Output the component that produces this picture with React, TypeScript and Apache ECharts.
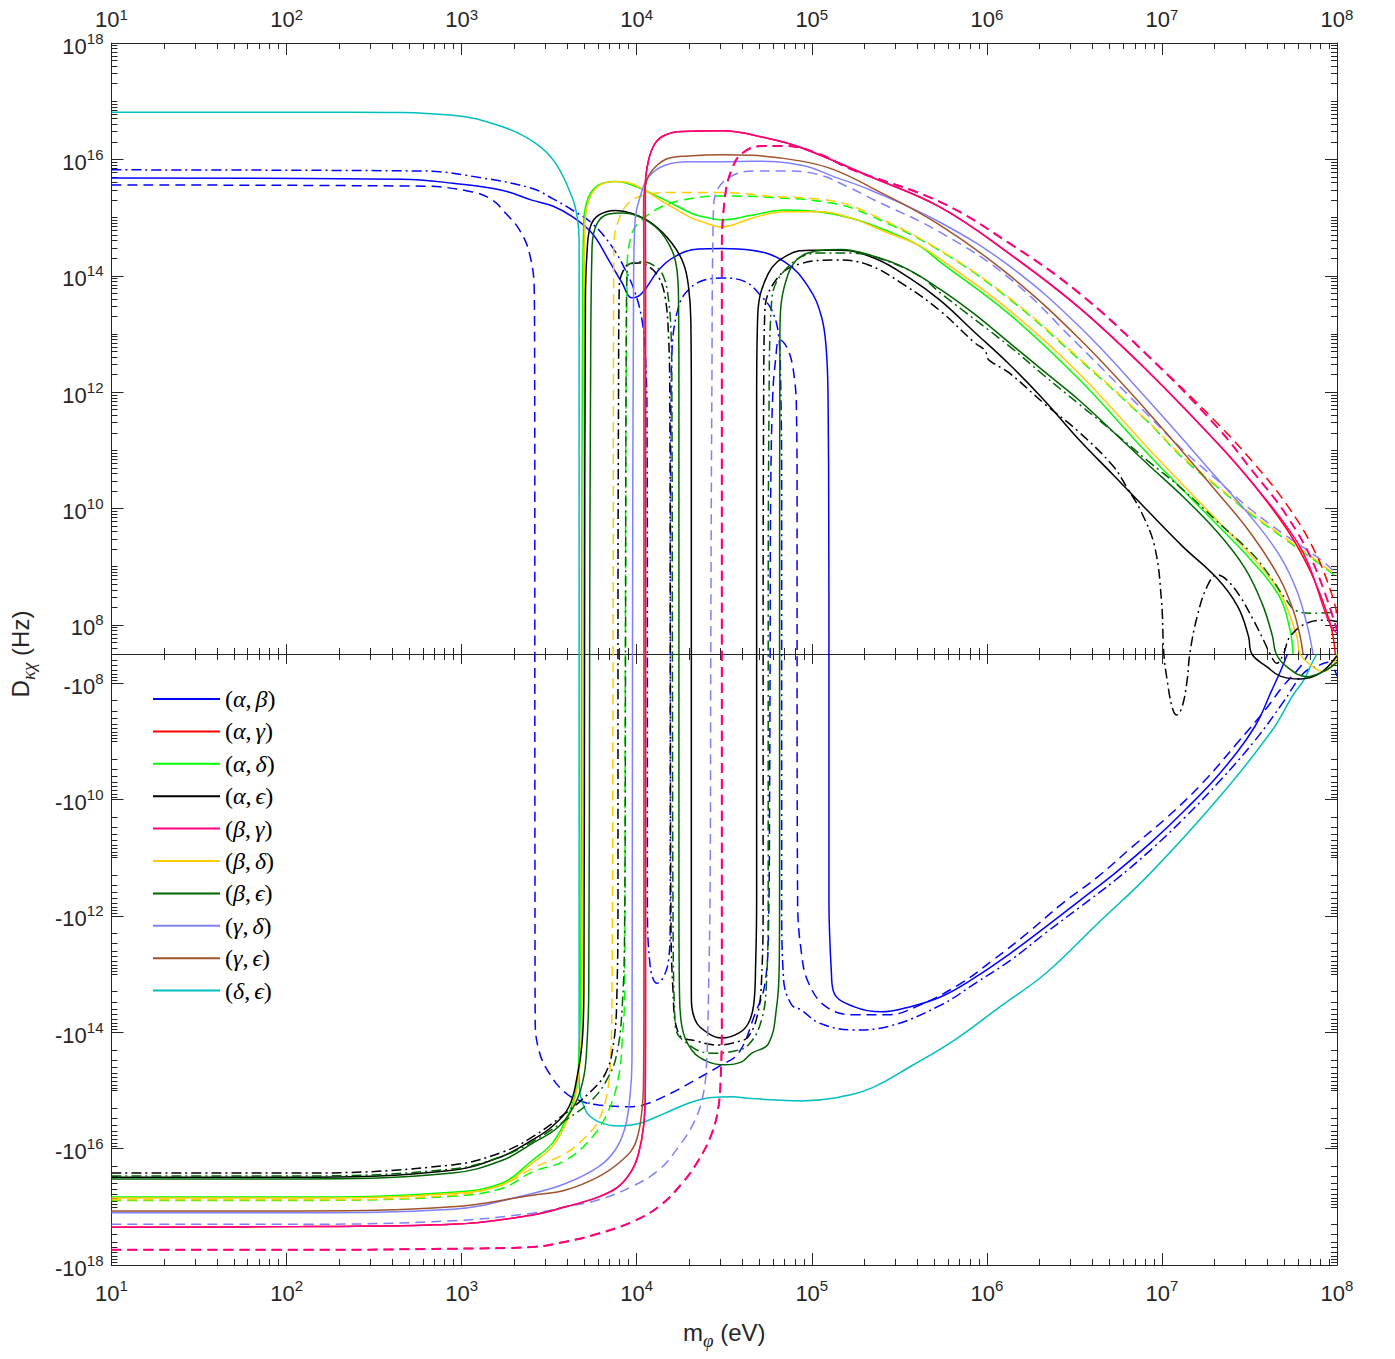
import React, { useEffect, useRef } from "react";
import * as echarts from "echarts";

// x = log10(m_phi / eV), y = signed log10(|D_kx| / Hz); y = 0 means |D| below 10^7.5 Hz (drawn on the zero line)
const xMajor = [1, 2, 3, 4, 5, 6, 7, 8];
const yLabelExponents = [8, 10, 12, 14, 16, 18];

const abSolid = [[1.0,15.68],[2.66,15.66],[2.95,15.59],[3.23,15.47],[3.40,15.30],[3.52,15.20],[3.63,15.02],[3.745,14.73],[3.84,14.27],[3.916,13.88],[3.973,13.62],[4.03,13.70],[4.125,14.10],[4.218,14.33],[4.353,14.46],[4.486,14.47],[4.657,14.44],[4.845,14.24],[4.98,13.81],[5.055,13.30],[5.083,12.72],[5.093,11.87],[5.097,9.58],[5.098,0],[5.098,-11.73],[5.112,-12.98],[5.128,-13.33],[5.239,-13.56],[5.399,-13.65],[5.539,-13.58],[5.738,-13.39],[5.937,-13.05],[6.136,-12.64],[6.336,-12.19],[6.534,-11.73],[6.734,-11.26],[6.933,-10.75],[7.132,-10.18],[7.331,-9.55],[7.53,-8.75],[7.628,-8.12],[7.675,-7.81],[7.717,0]];
const abDash = [[1.0,15.56],[2.777,15.54],[3.062,15.44],[3.176,15.30],[3.25,15.08],[3.33,14.79],[3.387,14.39],[3.415,13.73],[3.417,12.41],[3.418,10.15],[3.418,0],[3.419,-11.73],[3.42,-13.79],[3.441,-14.31],[3.499,-14.70],[3.592,-15.04],[3.688,-15.19],[3.783,-15.25],[3.973,-15.28],[4.068,-15.22],[4.201,-15.04],[4.353,-14.79],[4.467,-14.59],[4.581,-14.36],[4.674,-13.70],[4.731,-13.19],[4.753,-12.16],[4.759,-10.01],[4.762,0],[4.765,10.15],[4.776,11.87],[4.793,12.55],[4.816,12.90],[4.866,12.72],[4.902,12.21],[4.913,11.58],[4.916,10.15],[4.916,0],[4.919,-11.73],[4.941,-12.64],[4.981,-13.15],[5.081,-13.56],[5.238,-13.70],[5.437,-13.70],[5.597,-13.56],[5.836,-13.19],[6.035,-12.76],[6.234,-12.29],[6.434,-11.78],[6.633,-11.33],[6.832,-10.81],[7.032,-10.30],[7.231,-9.72],[7.43,-9.03],[7.59,-8.46],[7.69,-8.06],[7.79,-7.72],[7.835,0]];
const abDashDot = [[1.0,15.82],[2.777,15.80],[3.119,15.68],[3.404,15.50],[3.517,15.33],[3.631,15.13],[3.745,14.90],[3.859,14.50],[3.935,14.10],[3.992,13.70],[4.03,13.24],[4.049,12.67],[4.059,11.52],[4.061,0],[4.061,-11.73],[4.077,-12.87],[4.116,-13.16],[4.153,-13.05],[4.182,-12.76],[4.191,-12.19],[4.192,0],[4.195,11.52],[4.201,12.67],[4.239,13.47],[4.296,13.76],[4.391,13.93],[4.486,13.96],[4.618,13.90],[4.714,13.64],[4.771,13.41],[4.809,13.01],[4.822,12.21],[4.828,10.15],[4.828,0],[4.828,-11.73],[4.839,-13.10],[4.885,-13.53],[4.941,-13.62],[5.041,-13.84],[5.238,-13.96],[5.437,-13.90],[5.739,-13.53],[5.938,-13.15],[6.137,-12.76],[6.337,-12.29],[6.536,-11.84],[6.736,-11.38],[6.935,-10.87],[7.134,-10.30],[7.334,-9.67],[7.533,-8.98],[7.69,-8.34],[7.809,-7.83],[7.886,-7.71],[7.949,-7.64],[8.0,-7.88]];
const agSolid = [[1.0,-17.35],[2.094,-17.34],[2.948,-17.30],[3.404,-17.14],[3.594,-17.00],[3.783,-16.83],[3.897,-16.65],[3.973,-16.37],[4.011,-16.08],[4.039,-15.62],[4.049,-15.05],[4.05,-13.45],[4.05,0],[4.05,13.58],[4.049,15.53],[4.068,15.99],[4.106,16.28],[4.163,16.42],[4.258,16.48],[4.486,16.49],[4.752,16.36],[4.941,16.2],[5.337,15.70],[5.733,15.18],[6.128,14.38],[6.524,13.46],[6.919,12.36],[7.315,11.13],[7.513,10.45],[7.71,9.66],[7.829,9.04],[7.908,8.49],[7.968,7.94],[7.99,0]];
const agDash = [[1.0,-17.74],[2.094,-17.74],[2.948,-17.72],[3.404,-17.69],[3.594,-17.60],[3.783,-17.46],[3.973,-17.26],[4.125,-17.00],[4.258,-16.60],[4.353,-16.20],[4.429,-15.74],[4.467,-15.28],[4.48,-14.76],[4.486,-13.90],[4.486,0],[4.486,14.39],[4.505,15.37],[4.543,15.83],[4.60,16.10],[4.714,16.23],[4.846,16.23],[5.036,16.10],[5.226,15.83],[5.732,15.27],[6.128,14.56],[6.524,13.71],[6.919,12.63],[7.315,11.47],[7.513,10.82],[7.71,10.08],[7.869,9.29],[7.968,8.55],[8.0,8.19]];
const adSolid = [[1.0,-16.83],[2.094,-16.83],[2.948,-16.75],[3.233,-16.59],[3.404,-16.20],[3.517,-15.91],[3.594,-15.51],[3.65,-15.05],[3.669,-14.48],[3.68,-13.27],[3.685,0],[3.691,13.58],[3.698,14.96],[3.726,15.36],[3.783,15.56],[3.878,15.62],[3.973,15.56],[4.163,15.30],[4.315,15.07],[4.372,15.02],[4.486,14.96],[4.657,15.04],[4.846,15.13],[5.036,15.10],[5.226,14.99],[5.415,14.79],[5.606,14.53],[5.732,14.24],[6.128,13.34],[6.524,12.23],[6.919,10.94],[7.315,9.72],[7.513,9.10],[7.671,8.49],[7.732,7.91],[7.749,0]];
const adDash = [[1.0,-16.89],[2.094,-16.89],[2.948,-16.82],[3.233,-16.68],[3.404,-16.40],[3.594,-16.20],[3.746,-15.80],[3.84,-15.34],[3.897,-14.76],[3.916,-14.19],[3.931,-13.33],[3.935,0],[3.945,14.10],[3.973,14.73],[4.03,14.96],[4.125,15.16],[4.258,15.30],[4.486,15.37],[4.752,15.35],[5.129,15.24],[5.337,15.03],[5.732,14.43],[6.128,13.60],[6.524,12.57],[6.919,11.49],[7.118,10.87],[7.315,10.37],[7.513,9.89],[7.71,9.46],[7.908,9.03],[8.0,8.82]];
const aeSolid = [[1.0,-16.49],[2.094,-16.49],[2.948,-16.37],[3.233,-16.13],[3.404,-15.85],[3.517,-15.62],[3.613,-15.28],[3.66,-14.76],[3.688,-14.19],[3.698,-13.33],[3.702,0],[3.707,13.58],[3.716,14.39],[3.735,14.84],[3.783,15.04],[3.878,15.12],[3.973,15.07],[4.087,14.90],[4.201,14.56],[4.267,14.21],[4.296,13.81],[4.309,13.24],[4.312,11.87],[4.312,0],[4.312,-13.33],[4.334,-13.79],[4.409,-14.02],[4.486,-14.10],[4.58,-14.02],[4.637,-13.85],[4.668,-13.53],[4.679,-12.87],[4.685,-11.73],[4.685,0],[4.685,11.87],[4.691,13.30],[4.752,14.04],[4.865,14.36],[4.998,14.44],[5.169,14.44],[5.359,14.30],[5.549,13.98],[5.732,13.58],[5.93,13.03],[6.128,12.48],[6.325,11.87],[6.524,11.19],[6.721,10.58],[6.919,9.96],[7.118,9.35],[7.315,8.80],[7.434,8.31],[7.494,7.81],[7.514,0],[7.60,-7.72],[7.676,-7.88],[7.79,-7.93],[7.904,-7.83],[7.999,-7.53]];
const aeDashDot = [[1.0,-16.42],[2.094,-16.42],[2.948,-16.28],[3.233,-16.06],[3.404,-15.80],[3.594,-15.39],[3.726,-15.05],[3.821,-14.71],[3.868,-14.19],[3.887,-13.33],[3.893,-11.61],[3.893,0],[3.896,11.87],[3.90,13.81],[3.925,14.10],[3.963,14.21],[4.011,14.22],[4.068,14.16],[4.125,13.98],[4.162,13.64],[4.182,12.95],[4.189,11.87],[4.192,0],[4.195,-11.73],[4.207,-13.27],[4.239,-14.02],[4.353,-14.16],[4.467,-14.22],[4.58,-14.16],[4.637,-14.08],[4.69,-13.70],[4.713,-13.10],[4.722,-11.73],[4.722,0],[4.725,11.87],[4.732,13.41],[4.809,13.98],[4.941,14.21],[5.131,14.27],[5.321,14.19],[5.534,13.83],[5.732,13.40],[5.93,12.85],[5.989,12.72],[6.0,12.64],[6.012,12.55],[6.128,12.33],[6.325,11.81],[6.524,11.32],[6.721,10.73],[6.80,10.36],[6.879,9.96],[6.958,9.35],[6.997,8.43],[7.011,0],[7.03,-7.95],[7.058,-8.41],[7.083,-8.55],[7.115,-8.41],[7.144,-7.95],[7.159,0],[7.201,8.14],[7.258,8.66],[7.315,8.86],[7.372,8.77],[7.448,8.48],[7.523,8.08],[7.58,7.74],[7.618,0],[7.656,-7.66],[7.694,0],[7.732,7.80],[7.827,8.03],[7.941,8.08],[8.0,8.06]];
const bgSolid = [[1.0,-17.35],[2.094,-17.34],[2.948,-17.30],[3.404,-17.14],[3.594,-17.00],[3.783,-16.83],[3.897,-16.65],[3.973,-16.37],[4.011,-16.08],[4.039,-15.62],[4.049,-15.05],[4.05,-13.45],[4.05,0],[4.05,13.58],[4.049,15.53],[4.068,15.99],[4.106,16.28],[4.163,16.42],[4.258,16.48],[4.486,16.49],[4.752,16.36],[4.941,16.2],[5.337,15.70],[5.733,15.18],[6.128,14.38],[6.524,13.46],[6.919,12.36],[7.315,11.13],[7.513,10.45],[7.71,9.70],[7.829,9.10],[7.95,8.08],[8.0,7.85]];
const bgDash = [[1.0,-17.74],[2.094,-17.74],[2.948,-17.72],[3.404,-17.69],[3.594,-17.60],[3.783,-17.46],[3.973,-17.26],[4.125,-17.00],[4.258,-16.60],[4.353,-16.20],[4.429,-15.74],[4.467,-15.28],[4.48,-14.76],[4.486,-13.90],[4.486,0],[4.486,14.39],[4.505,15.37],[4.543,15.83],[4.60,16.10],[4.714,16.23],[4.846,16.23],[5.036,16.10],[5.226,15.83],[5.732,15.27],[6.128,14.56],[6.524,13.71],[6.919,12.63],[7.315,11.40],[7.513,10.66],[7.71,9.89],[7.869,9.03],[8.0,7.91]];
const bdSolid = [[1.0,-16.85],[2.094,-16.85],[2.948,-16.77],[3.233,-16.62],[3.404,-16.25],[3.517,-15.97],[3.594,-15.58],[3.65,-15.11],[3.677,-14.48],[3.688,-13.27],[3.694,0],[3.70,13.58],[3.706,14.96],[3.734,15.35],[3.791,15.56],[3.878,15.62],[3.973,15.58],[4.163,15.25],[4.315,14.99],[4.372,14.93],[4.486,14.84],[4.657,14.99],[4.846,15.10],[5.036,15.10],[5.226,14.99],[5.415,14.76],[5.606,14.53],[5.732,14.29],[6.128,13.41],[6.524,12.33],[6.919,11.04],[7.315,9.80],[7.513,9.18],[7.671,8.57],[7.771,7.80],[7.789,0],[7.863,-7.72],[7.92,-7.80],[7.977,-7.69],[8.0,0]];
const bdDash = [[1.0,-16.88],[2.094,-16.88],[2.948,-16.80],[3.233,-16.62],[3.404,-16.34],[3.594,-16.08],[3.708,-15.80],[3.783,-15.51],[3.831,-15.05],[3.85,-14.48],[3.859,-13.33],[3.865,0],[3.869,14.50],[3.897,14.96],[3.954,15.25],[4.049,15.39],[4.201,15.43],[4.486,15.43],[4.752,15.37],[5.131,15.28],[5.337,15.06],[5.732,14.44],[6.128,13.62],[6.524,12.59],[6.919,11.50],[7.118,10.89],[7.315,10.39],[7.513,9.91],[7.71,9.48],[7.908,9.05],[8.0,8.84]];
const beSolid = [[1.0,-16.52],[2.094,-16.52],[2.948,-16.42],[3.233,-16.20],[3.404,-15.91],[3.555,-15.62],[3.65,-15.22],[3.698,-14.76],[3.716,-14.19],[3.726,-13.33],[3.731,0],[3.736,11.87],[3.745,14.50],[3.774,14.90],[3.84,15.06],[3.916,15.08],[4.011,15.02],[4.125,14.79],[4.201,14.44],[4.23,14.10],[4.239,13.53],[4.241,11.87],[4.241,0],[4.241,-11.73],[4.244,-13.27],[4.258,-13.90],[4.315,-14.31],[4.409,-14.51],[4.504,-14.56],[4.599,-14.51],[4.657,-14.36],[4.752,-14.20],[4.799,-13.57],[4.814,-12.87],[4.816,-11.73],[4.816,0],[4.818,13.01],[4.866,14.04],[4.979,14.39],[5.169,14.45],[5.359,14.33],[5.535,14.13],[5.732,13.77],[5.93,13.34],[6.128,12.85],[6.325,12.36],[6.524,11.87],[6.721,11.32],[6.919,10.76],[7.118,10.21],[7.315,9.60],[7.473,8.98],[7.572,8.37],[7.631,7.81],[7.653,0],[7.714,-7.72],[7.827,-7.89],[7.941,-7.77],[8.0,-7.64]];
const beDashDot = [[1.0,-16.47],[2.094,-16.47],[2.948,-16.35],[3.233,-16.13],[3.404,-15.88],[3.594,-15.51],[3.746,-15.16],[3.84,-14.76],[3.887,-14.36],[3.916,-13.62],[3.931,-12.19],[3.936,0],[3.939,11.87],[3.945,14.16],[3.973,14.22],[4.03,14.24],[4.106,14.16],[4.154,13.98],[4.182,13.58],[4.197,12.95],[4.201,11.87],[4.204,0],[4.207,-11.73],[4.22,-13.90],[4.315,-14.25],[4.429,-14.36],[4.543,-14.33],[4.637,-14.22],[4.713,-13.79],[4.742,-13.10],[4.751,-11.73],[4.751,0],[4.756,11.87],[4.771,13.58],[4.866,14.16],[5.036,14.39],[5.226,14.39],[5.415,14.27],[5.624,13.98],[5.732,13.71],[6.128,12.79],[6.325,12.29],[6.524,11.80],[6.721,11.32],[6.919,10.82],[7.118,10.33],[7.315,9.78],[7.513,9.23],[7.612,8.86],[7.71,8.43],[7.77,8.24],[7.869,8.20],[8.0,8.22]];
const gdSolid = [[1.0,-17.10],[2.094,-17.10],[2.948,-17.04],[3.404,-16.77],[3.594,-16.60],[3.783,-16.31],[3.878,-16.02],[3.935,-15.62],[3.963,-15.05],[3.973,-14.48],[3.976,0],[3.982,13.81],[3.991,14.96],[4.02,15.36],[4.068,15.70],[4.162,15.90],[4.296,15.96],[4.486,15.96],[4.657,15.97],[4.941,15.90],[5.129,15.70],[5.337,15.47],[5.732,14.92],[6.128,14.17],[6.524,13.14],[6.919,11.87],[7.315,10.52],[7.513,9.84],[7.671,9.20],[7.769,8.60],[7.829,8.00],[7.863,0]];
const gdDash = [[1.0,-17.30],[2.094,-17.30],[2.948,-17.24],[3.404,-17.11],[3.594,-17.00],[3.783,-16.88],[3.973,-16.65],[4.125,-16.37],[4.239,-15.97],[4.333,-15.51],[4.381,-15.05],[4.40,-14.48],[4.41,-13.33],[4.419,-11.61],[4.423,0],[4.429,11.87],[4.438,15.13],[4.467,15.51],[4.561,15.74],[4.675,15.80],[4.846,15.80],[5.036,15.74],[5.226,15.50],[5.337,15.33],[5.732,14.75],[6.128,13.96],[6.524,12.81],[6.919,11.61],[7.118,11.01],[7.315,10.49],[7.513,9.97],[7.71,9.53],[7.908,9.12],[8.0,8.87]];
const geSolid = [[1.0,-17.07],[2.094,-17.07],[2.948,-17.00],[3.404,-16.80],[3.594,-16.71],[3.783,-16.48],[3.916,-16.20],[3.992,-15.91],[4.03,-15.34],[4.039,-14.76],[4.041,-13.45],[4.041,0],[4.041,13.58],[4.039,15.25],[4.059,15.65],[4.106,15.87],[4.182,16.02],[4.296,16.06],[4.486,16.08],[4.657,16.07],[4.941,15.97],[5.129,15.82],[5.337,15.52],[5.732,14.87],[6.128,14.01],[6.524,12.93],[6.919,11.66],[7.315,10.28],[7.513,9.55],[7.671,8.81],[7.749,8.26],[7.789,7.81],[7.806,0]];
const deSolid = [[1.0,16.81],[2.378,16.81],[2.948,16.76],[3.233,16.56],[3.421,16.28],[3.535,15.94],[3.631,15.35],[3.66,15.01],[3.671,14.61],[3.671,0],[3.671,-14.82],[3.707,-15.34],[3.783,-15.54],[3.897,-15.61],[4.011,-15.57],[4.162,-15.39],[4.296,-15.22],[4.429,-15.12],[4.543,-15.11],[4.657,-15.14],[4.941,-15.18],[5.129,-15.13],[5.34,-14.96],[5.568,-14.58],[5.817,-14.13],[6.08,-13.55],[6.335,-12.99],[6.633,-12.13],[6.933,-11.27],[7.331,-9.95],[7.63,-8.81],[7.75,-8.20],[7.81,-7.95],[7.85,-7.70],[7.885,0]];

const AXIS = "#262626";
const SANS = "'Liberation Sans', Arial, Helvetica, sans-serif";
const SERIF = "'Liberation Serif', 'Times New Roman', serif";
const Y0 = 7.5;

const toAxisY = (e: number) => (e === 0 ? 0 : e > 0 ? Math.max(e - Y0, 0) : Math.min(e + Y0, 0));
const prep = (arr: number[][]) => arr.map(([x, e]) => [x, toAxisY(e)]);

const DASH = [10, 6];
const DASHDOT = [10, 4, 2, 4];

const curves = [
  { name: "(α,β)", data: abSolid, color: "#0000FF", dash: "solid" },
  { name: "(α,β) b", data: abDash, color: "#0000FF", dash: DASH },
  { name: "(α,β) c", data: abDashDot, color: "#0000FF", dash: DASHDOT },
  { name: "(δ,ϵ)", data: deSolid, color: "#00BFBF", dash: "solid" },
  { name: "(α,δ)", data: adSolid, color: "#00FF00", dash: "solid" },
  { name: "(α,δ) b", data: adDash, color: "#00FF00", dash: DASH },
  { name: "(β,δ)", data: bdSolid, color: "#FFCC00", dash: "solid" },
  { name: "(β,δ) b", data: bdDash, color: "#FFCC00", dash: DASH },
  { name: "(α,ϵ)", data: aeSolid, color: "#000000", dash: "solid" },
  { name: "(α,ϵ) c", data: aeDashDot, color: "#000000", dash: DASHDOT },
  { name: "(β,ϵ)", data: beSolid, color: "#006400", dash: "solid" },
  { name: "(β,ϵ) c", data: beDashDot, color: "#006400", dash: DASHDOT },
  { name: "(γ,δ)", data: gdSolid, color: "#8080FF", dash: "solid" },
  { name: "(γ,δ) b", data: gdDash, color: "#8080FF", dash: DASH },
  { name: "(γ,ϵ)", data: geSolid, color: "#A0522D", dash: "solid" },
  { name: "(α,γ)", data: agSolid, color: "#FF0000", dash: "solid" },
  { name: "(α,γ) b", data: agDash, color: "#FF0000", dash: DASH },
  { name: "(β,γ)", data: bgSolid, color: "#FF0080", dash: "solid" },
  { name: "(β,γ) b", data: bgDash, color: "#FF0080", dash: DASH, width: 2 },
];

const legendNames = ["(α,β)", "(α,γ)", "(α,δ)", "(α,ϵ)", "(β,γ)", "(β,δ)", "(β,ϵ)", "(γ,δ)", "(γ,ϵ)", "(δ,ϵ)"];

const xMinor: number[] = [];
for (let n = 1; n < 8; n++) for (let k = 2; k <= 9; k++) xMinor.push(n + Math.log10(k));
const yMajor: number[] = [];
yLabelExponents.forEach((e) => { yMajor.push(e - Y0); yMajor.push(-(e - Y0)); });
const yMinor: number[] = [];
for (let d = 7; d <= 17; d++) for (let k = 1; k <= 9; k++) {
  const v = d + Math.log10(k);
  if (v <= Y0 || v >= 18) continue;
  if (k === 1 && d % 2 === 0) continue;
  yMinor.push(v - Y0, -(v - Y0));
}

// tick-label styles: "10" with a raised exponent
const richLow = {
  b: { fontFamily: SANS, fontSize: 22, lineHeight: 22, color: AXIS, padding: [6, 0, 0, 0] },
  s: { fontFamily: SANS, fontSize: 15, lineHeight: 15, color: AXIS, padding: [0, 0, 10, 0] },
};
const richTop = {
  b: { fontFamily: SANS, fontSize: 22, lineHeight: 22, color: AXIS },
  s: { fontFamily: SANS, fontSize: 15, lineHeight: 15, color: AXIS, padding: [0, 0, 10, 0] },
};
const xFmt = (v: number) => `{b|10}{s|${Math.round(v)}}`;
const yFmt = (v: number) => `{b|${v < 0 ? "-10" : "10"}}{s|${Math.round(Math.abs(v) + Y0)}}`;

function xAxisDef(o: any) {
  return {
    type: "value", min: 1, max: 8, gridIndex: 0, splitLine: { show: false },
    axisLine: { show: o.line ?? false, onZero: o.onZero ?? false, onZeroAxisIndex: 0, lineStyle: { color: AXIS, width: 1 } },
    axisTick: { show: true, inside: o.inside, length: o.len, customValues: o.ticks, lineStyle: { color: AXIS, width: 1 } },
    axisLabel: o.labels
      ? { show: true, customValues: xMajor, formatter: xFmt, rich: o.rich, margin: o.margin }
      : { show: false },
    position: o.position,
    ...(o.extra || {}),
  };
}
function yAxisDef(o: any) {
  return {
    type: "value", min: -10.5, max: 10.5, gridIndex: 0, splitLine: { show: false },
    axisLine: { show: o.line ?? false, onZero: false, lineStyle: { color: AXIS, width: 1 } },
    axisTick: { show: true, inside: true, length: o.len, customValues: o.ticks, lineStyle: { color: AXIS, width: 1 } },
    axisLabel: o.labels
      ? { show: true, customValues: yMajor, formatter: yFmt, rich: richLow, margin: 8 }
      : { show: false },
    position: o.position,
    ...(o.extra || {}),
  };
}

const option: any = {
  animation: false,
  backgroundColor: "#ffffff",
  grid: { left: 108, top: 43, width: 1229, height: 1222, containLabel: false },
  xAxis: [
    xAxisDef({ position: "bottom", line: true, inside: true, len: 12, ticks: xMajor, labels: true, rich: richLow, margin: 14,
      extra: {
        name: "{a|m}{k|φ}{a| (eV)}", nameLocation: "middle", nameGap: 50,
        nameTextStyle: { rich: {
          a: { fontFamily: SANS, fontSize: 24, color: AXIS },
          k: { fontFamily: SERIF, fontStyle: "italic", fontSize: 19, color: AXIS, padding: [16, 0, 0, 0] },
        } },
      } }),
    xAxisDef({ position: "bottom", inside: true, len: 6, ticks: xMinor }),
    xAxisDef({ position: "top", line: true, inside: true, len: 12, ticks: xMajor, labels: true, rich: richTop, margin: 13 }),
    xAxisDef({ position: "top", inside: true, len: 6, ticks: xMinor }),
    xAxisDef({ position: "bottom", onZero: true, line: true, inside: true, len: 10, ticks: xMajor }),
    xAxisDef({ position: "bottom", onZero: true, inside: true, len: 6, ticks: xMinor }),
    xAxisDef({ position: "bottom", onZero: true, inside: false, len: 10, ticks: xMajor }),
    xAxisDef({ position: "bottom", onZero: true, inside: false, len: 6, ticks: xMinor }),
  ],
  yAxis: [
    yAxisDef({ position: "left", line: true, len: 12, ticks: yMajor, labels: true,
      extra: {
        name: "{a|D}{k|κχ}{a| (Hz)}", nameLocation: "middle", nameRotate: 90, nameGap: 74,
        nameTextStyle: { rich: {
          a: { fontFamily: SANS, fontSize: 24, color: AXIS },
          k: { fontFamily: SERIF, fontStyle: "italic", fontSize: 19, color: AXIS, padding: [16, 0, 0, 0] },
        } },
      } }),
    yAxisDef({ position: "left", len: 6, ticks: yMinor }),
    yAxisDef({ position: "right", line: true, len: 12, ticks: yMajor }),
    yAxisDef({ position: "right", len: 6, ticks: yMinor }),
  ],
  legend: {
    data: legendNames,
    orient: "vertical",
    left: 148,
    top: 682,
    itemWidth: 67,
    itemHeight: 2,
    itemGap: 8.4,
    icon: "rect",
    selectedMode: false,
    formatter: (name: string) => `{p|(}{g|${name[1]}}{c|,}{g|${name[3]}}{p|)}`,
    textStyle: {
      fontSize: 24,
      lineHeight: 24,
      rich: {
        p: { fontFamily: SERIF, fontSize: 24, lineHeight: 24, color: "#000" },
        c: { fontFamily: SERIF, fontSize: 24, lineHeight: 24, color: "#000", padding: [0, 4, 0, 0] },
        g: { fontFamily: SERIF, fontStyle: "italic", fontSize: 24, lineHeight: 24, color: "#000" },
      },
    },
  },
  series: curves.map((c: any) => ({
    name: c.name,
    type: "line",
    xAxisIndex: 0,
    yAxisIndex: 0,
    data: prep(c.data),
    showSymbol: false,
    symbol: "none",
    smooth: 0.4,
    clip: true,
    color: c.color,
    lineStyle: { color: c.color, width: c.width ?? 1.5, type: c.dash },
    emphasis: { disabled: true },
    silent: true,
    z: 3,
  })),
};

export default function App() {
  const ref = useRef<HTMLDivElement>(null);
  useEffect(() => {
    const chart = echarts.init(ref.current!, null, { renderer: "svg" });
    chart.setOption(option);
    return () => chart.dispose();
  }, []);
  return (
    <div
      ref={ref}
      style={{ position: "fixed", left: 0, top: 0, width: 1395, height: 1359, background: "#fff" }}
    />
  );
}
